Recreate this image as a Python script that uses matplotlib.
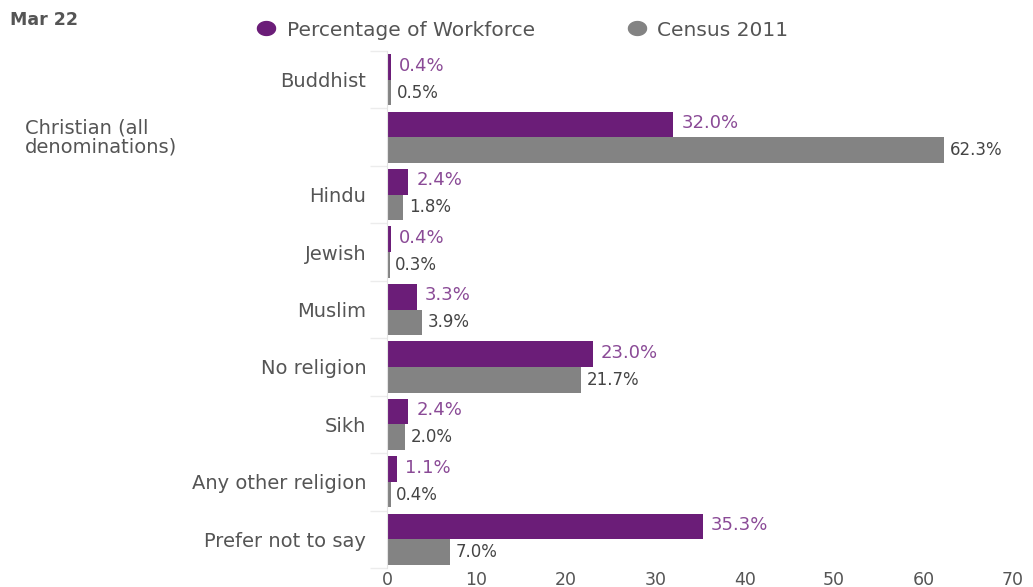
import matplotlib
matplotlib.use("Agg")
import matplotlib.pyplot as plt
import matplotlib.transforms as mtransforms
from matplotlib.lines import Line2D
from matplotlib.path import Path
import numpy as np

categories = ["Buddhist", "Christian (all\ndenominations)", "Hindu", "Jewish", "Muslim",
              "No religion", "Sikh", "Any other religion", "Prefer not to say"]
workforce = [0.4, 32.0, 2.4, 0.4, 3.3, 23.0, 2.4, 1.1, 35.3]
census = [0.5, 62.3, 1.8, 0.3, 3.9, 21.7, 2.0, 0.4, 7.0]
x_ticks = [0, 10, 20, 30, 40, 50, 60, 70]
series_names = ["Percentage of Workforce", "Census 2011"]
period = "Mar 22"

PURPLE = "#6b1d78"
GREY = "#838383"
TEXT = "#555555"
PURPLE_TEXT = "#8a4a96"

plt.rcParams["font.family"] = ["DejaVu Sans"]

W, H = 1033, 587
fig = plt.figure(figsize=(W / 100, H / 100), dpi=100)
ax = fig.add_axes([387 / W, 19 / H, (1013 - 387) / W, (568 - 51) / H])

y = np.arange(len(categories))
bh = 0.445
ax.barh(y - bh / 2, workforce, height=bh, color=PURPLE, edgecolor="none")
ax.barh(y + bh / 2, census, height=bh, color=GREY, edgecolor="none")

for yi, v in zip(y, workforce):
    ax.annotate(f"{v:.1f}%", (v, yi - bh / 2), xytext=(6, 1), textcoords="offset points",
                ha="left", va="center", fontsize=13, color=PURPLE_TEXT)
for yi, v in zip(y, census):
    ax.annotate(f"{v:.1f}%", (v, yi + bh / 2), xytext=(4, 0), textcoords="offset points",
                ha="left", va="center", fontsize=12, color="#444444")

ax.set_xlim(0, 70)
ax.set_ylim(len(categories) - 0.5, -0.5)
ax.set_xticks(x_ticks)
ax.set_xticklabels([str(t) for t in x_ticks], fontsize=12.5, color=TEXT)
ax.tick_params(axis="x", length=0, pad=2)

# category labels: the wrapped one is left-aligned at the figure edge
ax.set_yticks(y)
ax.set_yticklabels(["" if "\n" in c else c for c in categories], fontsize=14, color=TEXT)
ax.tick_params(axis="y", length=0, pad=15)
blend = mtransforms.blended_transform_factory(fig.transFigure, ax.transData)
for yi, c in zip(y, categories):
    if "\n" in c:
        ax.text(25 / W, yi, c, transform=blend, ha="left", va="center",
                fontsize=14, color=TEXT, linespacing=1.0)

# faint separators between categories
ax.set_yticks(np.arange(len(categories) + 1) - 0.5, minor=True)
ax.tick_params(axis="y", which="minor", length=12, color="#ececec", width=1)

for s in ["top", "right", "bottom"]:
    ax.spines[s].set_visible(False)
ax.spines["left"].set_color("#e4e4e4")

# period label
fig.text(10 / W, 1 - 20 / H, period, fontsize=12.5, fontweight="bold", color="#555555",
         ha="left", va="center")

# legend: slightly wide oval markers followed by series names
t = np.linspace(0, 2 * np.pi, 60)
oval = Path(np.column_stack([1.3 * np.cos(t), np.sin(t)]))
legend_items = [(266, 287, PURPLE), (637, 657, GREY)]
for (mx, tx, col), name in zip(legend_items, series_names):
    fig.add_artist(Line2D([mx / W], [1 - 28 / H], transform=fig.transFigure, marker=oval,
                          markersize=13, color=col, linestyle="none"))
    fig.text(tx / W, 1 - 30 / H, name, fontsize=14.5, color=TEXT, ha="left", va="center")

fig.savefig("out.png", dpi=100, facecolor="white")
